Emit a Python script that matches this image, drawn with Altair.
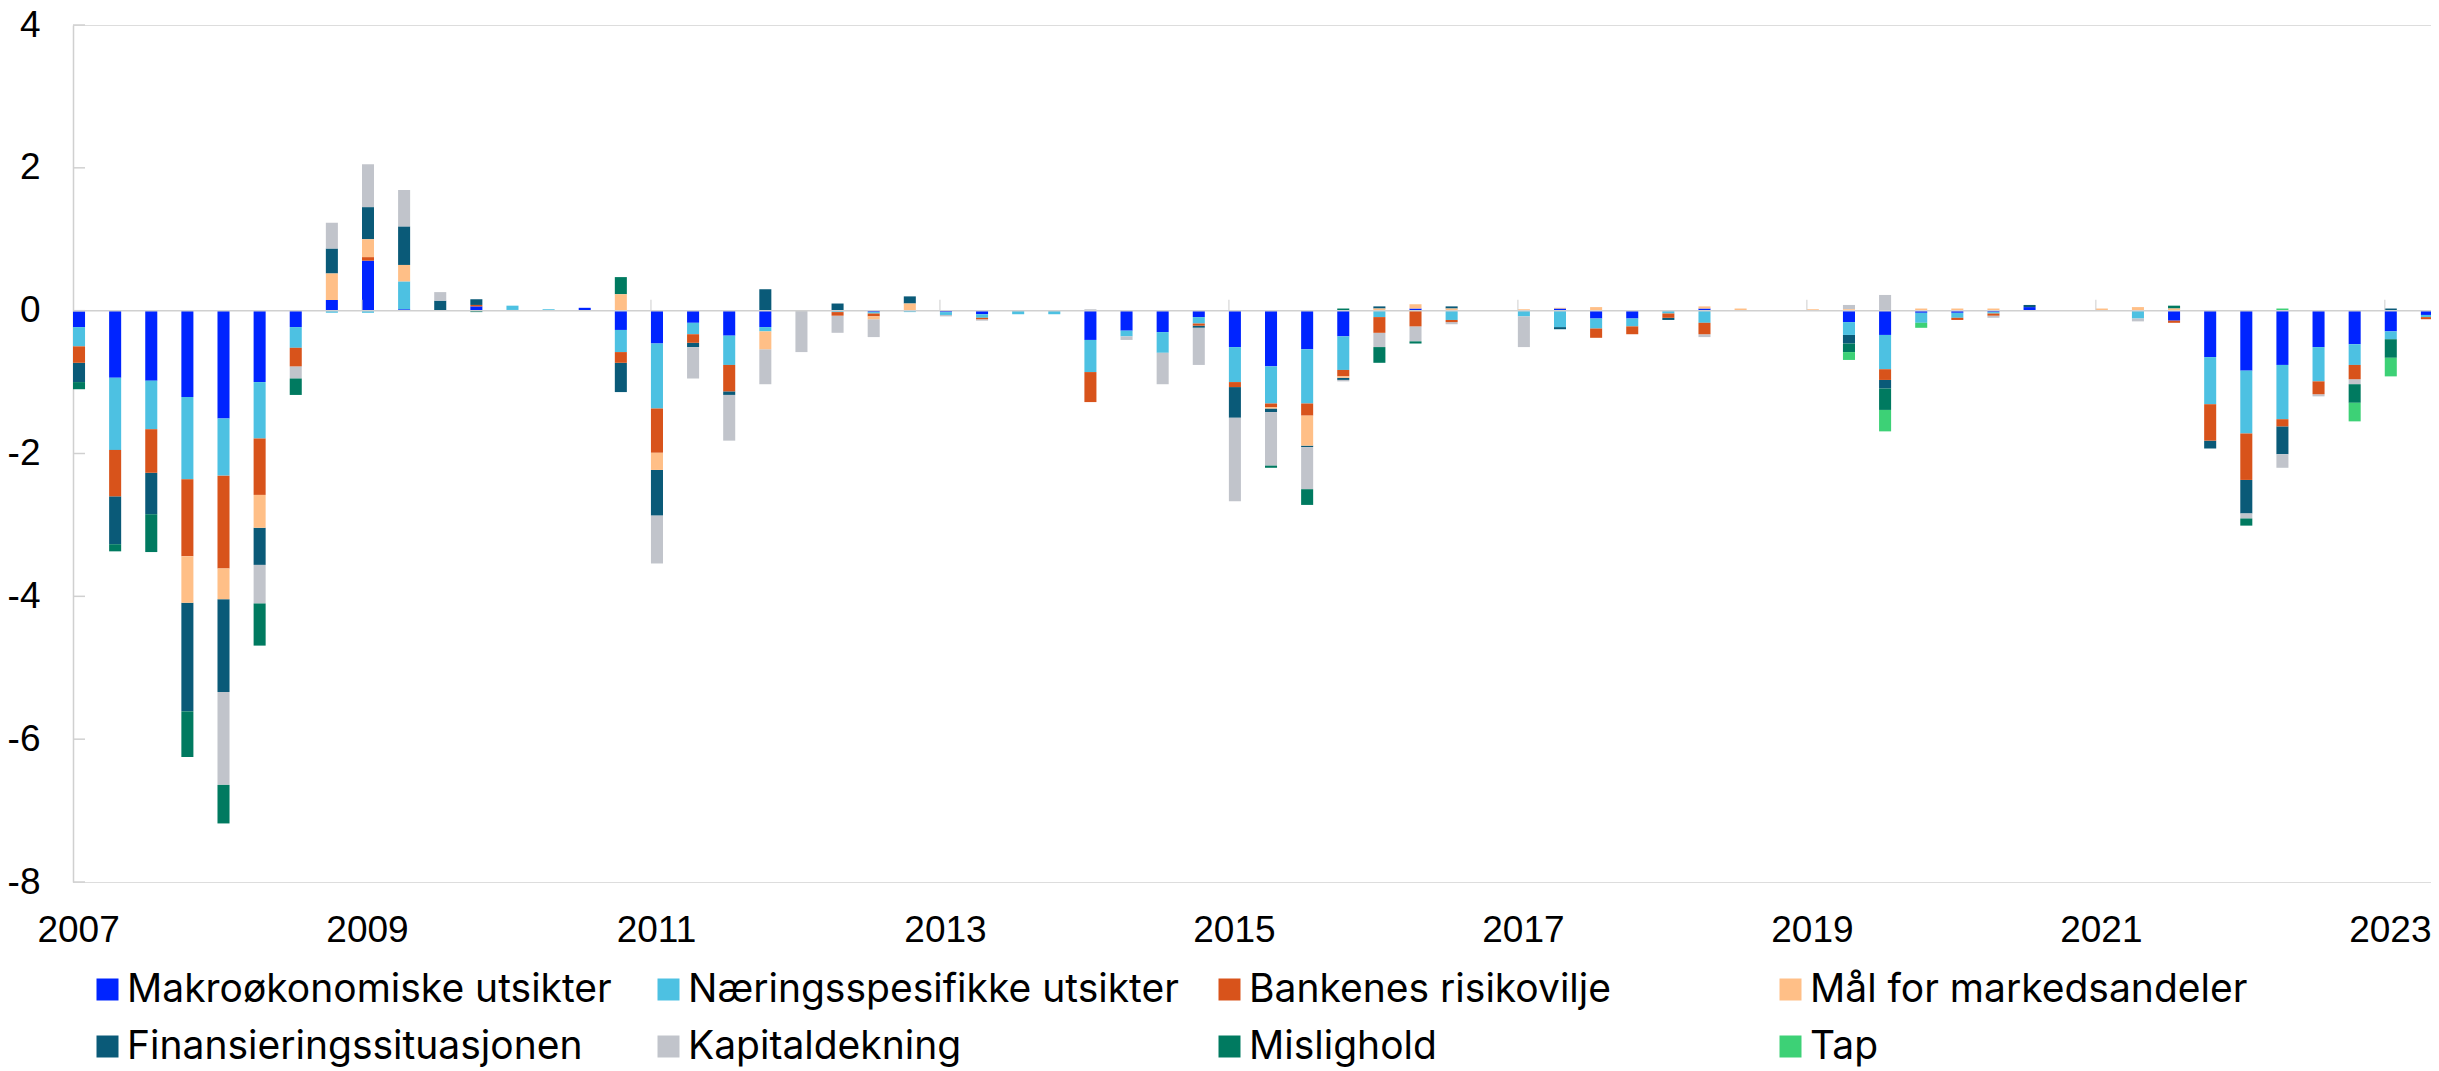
import altair as alt
import pandas as pd

# ---- data ----
years = list(range(2007, 2024))
quarters = [f"{y}Q{q}" for y in years for q in range(1, 5)][:66]

series = [
    "Makroøkonomiske utsikter",
    "Næringsspesifikke utsikter",
    "Bankenes risikovilje",
    "Mål for markedsandeler",
    "Finansieringssituasjonen",
    "Kapitaldekning",
    "Mislighold",
    "Tap",
]
colors = ["#0024ff", "#4dc1e2", "#d8531b", "#ffbf87",
          "#0a5a78", "#c1c4cb", "#007a60", "#3dd176"]

makro = [-0.23, -0.94, -0.98, -1.21,
         -1.51, -1.00, -0.23, 0.15,
         0.70, 0.02, 0, 0.06,
         0.01, 0, 0.04, -0.27,
         -0.46, -0.17, -0.35, -0.23,
         0, 0, -0.02, 0,
         -0.02, -0.05, 0, 0,
         -0.41, -0.28, -0.30, -0.09,
         -0.51, -0.78, -0.54, -0.36,
         0, 0.03, 0, 0,
         0, 0.03, -0.11, -0.11,
         0, 0.03, 0, 0,
         0, -0.16, -0.34, -0.03,
         -0.03, -0.02, 0.05, 0,
         0, 0, -0.14, -0.65,
         -0.84, -0.76, -0.51, -0.47,
         -0.29, -0.06]

naering = [-0.27, -1.01, -0.68, -1.15,
           -0.80, -0.79, -0.29, -0.03,
           -0.03, 0.39, 0, 0,
           0.06, 0.02, 0, -0.31,
           -0.91, -0.16, -0.41, -0.06,
           0, -0.02, -0.02, -0.02,
           -0.04, -0.05, -0.05, -0.05,
           -0.45, -0.08, -0.29, -0.09,
           -0.49, -0.52, -0.76, -0.47,
           -0.09, 0, -0.13, 0,
           -0.08, -0.23, -0.14, -0.11,
           -0.04, -0.17, 0, 0,
           0, -0.18, -0.48, -0.14,
           -0.07, -0.02, 0, 0,
           0, -0.11, 0, -0.66,
           -0.88, -0.76, -0.48, -0.29,
           -0.11, -0.03]

bank = [-0.23, -0.65, -0.61, -1.08,
        -1.30, -0.79, -0.26, 0,
        0.05, 0, 0, 0.02,
        0, 0, 0, -0.15,
        -0.62, -0.12, -0.37, 0,
        0, -0.05, -0.04, 0,
        0, -0.02, 0, 0,
        -0.42, 0, 0, -0.03,
        -0.07, -0.05, -0.17, -0.09,
        -0.22, -0.22, -0.03, 0,
        0, 0, -0.13, -0.11,
        -0.06, -0.16, 0, 0,
        0, 0, -0.15, 0,
        -0.03, -0.03, 0, 0,
        0, 0, -0.03, -0.51,
        -0.65, -0.10, -0.18, -0.20,
        0, -0.03]

maal = [0, 0, 0, -0.65,
        -0.43, -0.46, 0, 0.37,
        0.25, 0.23, 0, 0,
        0, 0, 0, 0.23,
        -0.24, 0, 0, -0.25,
        0, 0, -0.04, 0.10,
        0, 0, 0, 0,
        0, 0, 0, 0,
        0, -0.02, -0.42, -0.02,
        0.03, 0.06, 0.03, 0,
        0.02, 0.01, 0.05, 0,
        0, 0.03, 0.03, 0,
        0.02, 0.02, 0, 0.03,
        0.03, 0.03, 0, 0,
        0.03, 0.05, 0.03, 0,
        0, 0, 0, 0,
        0, 0]

fin = [-0.27, -0.67, -0.58, -1.52,
       -1.30, -0.52, 0, 0.35,
       0.45, 0.54, 0.14, 0.08,
       0, 0, 0, -0.41,
       -0.64, -0.06, -0.05, 0.30,
       0, 0.10, 0, 0.10,
       0, 0, 0, 0,
       0, 0, 0, -0.03,
       -0.43, -0.05, -0.02, -0.03,
       0.03, 0, 0.03, 0,
       0, -0.03, 0, 0,
       -0.03, 0, 0, 0,
       0, -0.12, -0.12, 0,
       0, 0, 0.03, 0,
       0, 0, 0, -0.11,
       -0.47, -0.39, 0, 0,
       0.03, 0]

kap = [0, 0, 0, 0,
       -1.30, -0.54, -0.17, 0.36,
       0.60, 0.51, 0.12, 0,
       0, 0, 0, 0,
       -0.67, -0.44, -0.64, -0.49,
       -0.58, -0.24, -0.25, 0,
       -0.02, -0.02, 0, 0,
       0.02, -0.05, -0.44, -0.52,
       -1.17, -0.75, -0.59, -0.02,
       -0.20, -0.21, -0.03, 0,
       -0.43, 0, 0, 0,
       0, -0.04, 0, 0,
       0, 0.06, 0.22, 0,
       0, -0.03, 0, 0,
       0, -0.04, 0, 0,
       -0.07, -0.19, -0.03, -0.07,
       0, 0]

misl = [-0.10, -0.10, -0.53, -0.64,
        -0.54, -0.59, -0.23, 0,
        0, 0, 0, -0.02,
        0, 0, 0, 0.24,
        0, 0, 0, 0,
        0, 0, 0, 0,
        0, 0, 0, 0,
        0, 0, 0, 0,
        0, -0.03, -0.22, 0.03,
        -0.22, -0.03, 0, 0,
        0, 0, 0, 0,
        0, 0, 0, 0,
        0, -0.12, -0.30, 0,
        0, 0, 0, 0,
        0, 0, 0.04, 0,
        -0.10, 0, 0, -0.26,
        -0.26, 0]

tap = [0, 0, 0, 0,
       0, 0, 0, 0,
       0, 0, 0, 0,
       0, 0, 0, 0,
       0, 0, 0, 0,
       0, 0, 0, 0,
       0, 0, 0, 0,
       0, 0, 0, 0,
       0, 0, 0, 0,
       0, 0, 0, 0,
       0, 0, 0, 0,
       0, 0, 0, 0,
       0, -0.11, -0.30, -0.07,
       0, 0, 0, 0,
       0, 0, 0, 0,
       0, 0.03, 0, -0.26,
       -0.26, 0]

values = [makro, naering, bank, maal, fin, kap, misl, tap]

x_tick_years = list(range(2009, 2024, 2))
x_label_years = list(range(2007, 2024, 2))
y_ticks = [4, 2, 0, -2, -4, -6, -8]

# ---- build table ----
rows = []
for i, (name, vals) in enumerate(zip(series, values)):
    for qlabel, v in zip(quarters, vals):
        if v == 0:
            continue
        y, q = int(qlabel[:4]), int(qlabel[-1])
        t = y + (q - 1) / 4
        rows.append({"kvartal": qlabel, "serie": name, "idx": i,
                     "verdi": v, "t": t, "t2": t + 1 / 12})
df = pd.DataFrame(rows)

AX = "#d0d0d0"
LABEL_SHIFT = 0.035  # labels sit slightly right of the year tick
xscale = alt.Scale(domain=[2007, 2023.32], nice=False, zero=False)
yscale = alt.Scale(domain=[-8, 4], nice=False)

x_axis = alt.Axis(
    values=[y + LABEL_SHIFT for y in x_label_years], title=None,
    domain=False, ticks=False, grid=False,
    labelFont="Liberation Sans", labelFontSize=37, labelColor="black",
    labelBaseline="alphabetic", labelPadding=59,
    labelFlush=False, labelOverlap=False,
    labelExpr="'' + floor(datum.value)")
y_axis = alt.Axis(
    values=y_ticks, title=None, domain=True, domainColor=AX, domainWidth=1.5,
    ticks=False, tickSize=0, grid=False,
    labelFont="Liberation Sans", labelFontSize=37, labelColor="black",
    labelPadding=33, labelBaseline="middle", labelExpr="'' + datum.value")

# legend laid out as 4 fixed-width columns of 2 entries (row-major order)
n_cols = 4
col_step = 561
layers = []
for c in range(n_cols):
    members = [series[c], series[c + n_cols]]
    cols = [colors[c], colors[c + n_cols]]
    layer = alt.Chart(df).transform_stack(
        stack="verdi", groupby=["kvartal"], as_=["y0", "y1"],
        sort=[alt.SortField("idx", order="ascending")], offset="zero",
    ).transform_filter(
        alt.FieldOneOfPredicate(field="serie", oneOf=members)
    ).mark_bar().encode(
        x=alt.X("t:Q", scale=xscale, axis=x_axis),
        x2="t2:Q",
        y=alt.Y("y0:Q", scale=yscale, axis=y_axis),
        y2="y1:Q",
        color=alt.Color("serie:N", scale=alt.Scale(domain=members, range=cols),
                        legend=alt.Legend(
                            title=None, orient="none",
                            legendX=15 + c * col_step, legendY=945,
                            direction="vertical", rowPadding=17,
                            symbolType="square", symbolSize=484, symbolStrokeWidth=0,
                            labelFont="Inter", labelFontSize=39, labelColor="black",
                            labelLimit=2000, labelOffset=0, padding=0)),
    )
    layers.append(layer)

zero_line = alt.Chart(pd.DataFrame({"y": [0]})).mark_rule(
    color=AX, strokeWidth=1.5).encode(y=alt.Y("y:Q", scale=yscale))

xticks = alt.Chart(pd.DataFrame({"x": x_tick_years, "y": [0] * len(x_tick_years)})).mark_tick(
    orient="vertical", size=11, yOffset=-5.5, thickness=1.5, color=AX).encode(
    x=alt.X("x:Q", scale=xscale), y=alt.Y("y:Q", scale=yscale))

yticks = alt.Chart(pd.DataFrame({"y": y_ticks})).mark_rule(
    color=AX, strokeWidth=1.5).encode(
    x=alt.value(0), x2=alt.value(12), y=alt.Y("y:Q", scale=yscale))

chart = alt.layer(*layers, zero_line, xticks, yticks).resolve_scale(
    color="independent"
).properties(
    width=2358, height=857,
    autosize="none",
    padding={"left": 65, "top": 17, "right": 0, "bottom": 189},
).configure_view(stroke=None).configure(background="white")

chart.save("out.html", embed_options={"renderer": "svg", "actions": False})
